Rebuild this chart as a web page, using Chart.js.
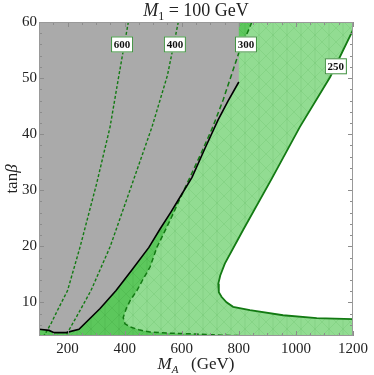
<!DOCTYPE html>
<html>
<head>
<meta charset="utf-8">
<script src="https://cdn.jsdelivr.net/npm/chart.js@4.4.1/dist/chart.umd.min.js"></script>
<style>
  html, body { margin: 0; padding: 0; background: #fff; }
</style>
</head>
<body>
<canvas id="myChart" width="374" height="375"></canvas>
<script>
// axis ranges and tick labels
const xRange = [100, 1200];
const yRange = [4, 60];
const xTicks = [200, 400, 600, 800, 1000, 1200];
const yTicks = [10, 20, 30, 40, 50, 60];

// contour of 250 GeV (solid, edge of the light green band)
const contour250 = [
  {x:1200,y:58.6},{x:1120,y:50.2},{x:1014,y:41.3},{x:916,y:32.1},{x:815,y:22.9},
  {x:751,y:16.9},{x:735,y:14.8},{x:728,y:13.3},{x:730,y:11.8},{x:740,y:10.95},
  {x:757,y:10.0},{x:780,y:9.2},{x:839,y:8.6},{x:955,y:7.7},{x:1073,y:7.2},{x:1200,y:7.0}
];
// contour of 300 GeV (dashed, edge of the dark green band)
const contour300 = [
  {x:846,y:60},{x:800,y:54.5},{x:745,y:46.1},{x:709,y:41.3},{x:668,y:36.6},
  {x:629,y:32.3},{x:593,y:28.4},{x:559,y:24.6},{x:535,y:22.1},{x:513,y:19.8},
  {x:489,y:16.3},{x:462,y:13.9},{x:443,y:12.1},{x:420,y:10.4},{x:405,y:8.8},
  {x:395,y:7.3},{x:401,y:6.2},{x:420,y:5.6},{x:450,y:5.1},{x:489,y:4.7},
  {x:560,y:4.5},{x:650,y:4.35},{x:740,y:4.15},{x:850,y:4.0}
];
const contour400 = [
  {x:588,y:60},{x:550,y:50.5},{x:496,y:41.3},{x:422,y:30.5},{x:349,y:19.9},
  {x:282,y:12.1},{x:242,y:8.4},{x:200,y:4.6},{x:193,y:3.9}
];
const contour600 = [
  {x:413,y:60},{x:380,y:50.5},{x:349,y:41.3},{x:302,y:31.2},{x:244,y:19.9},
  {x:200,y:12.1},{x:165,y:8.6},{x:143,y:6.3},{x:124,y:4.6},{x:116,y:3.9}
];
// black boundary of the excluded (gray) region
const excludedEdge = [
  {x:800,y:49.3},{x:762,y:45.9},{x:727,y:42.5},{x:680,y:37.3},{x:636,y:32.3},
  {x:598,y:29.1},{x:562,y:26.1},{x:523,y:23.0},{x:485,y:19.8},{x:426,y:15.8},
  {x:370,y:12.1},{x:314,y:8.9},{x:240,y:5.2},{x:195,y:4.6},{x:153,y:4.6},
  {x:135,y:5.0},{x:100,y:5.2}
];
// contour labels
const labelText = ['600', '400', '300', '250'];
const labelX = [391, 576, 825, 1140];
const labelY = [56, 56, 56, 52.1];

const serif = '"Liberation Serif", "DejaVu Serif", serif';
const lineGreen = '#137a13';

// faint mesh texture like the original render
function meshPattern(base, line) {
  let c = document.createElement('canvas');
  c.width = 14; c.height = 14;
  let g = c.getContext('2d');
  g.fillStyle = base;
  g.fillRect(0, 0, 14, 14);
  g.strokeStyle = line;
  g.lineWidth = 0.6;
  g.beginPath();
  g.moveTo(0, 0); g.lineTo(14, 14);
  g.moveTo(14, 0); g.lineTo(0, 14);
  g.moveTo(7, 0); g.lineTo(7, 14);
  g.stroke();
  return document.getElementById('myChart').getContext('2d').createPattern(c, 'repeat');
}

// build closed shapes from the curves and the frame corners
const lightShape = [{x:xRange[0],y:yRange[1]}, {x:xRange[1],y:yRange[1]}]
  .concat(contour250, [{x:xRange[1],y:yRange[0]}, {x:xRange[0],y:yRange[0]}]);
const darkShape = contour300.concat([{x:xRange[0],y:yRange[0]}, {x:xRange[0],y:yRange[1]}]);
const grayShape = [{x:xRange[0],y:yRange[1]}, {x:800,y:yRange[1]}].concat(excludedEdge);

function area(data, color, order) {
  return { data: data, showLine: true, fill: 'shape', backgroundColor: color,
           borderWidth: 0, pointRadius: 0, order: order };
}
function curve(data, color, width, dash, order) {
  return { data: data, showLine: true, fill: false, borderColor: color,
           borderWidth: width, borderDash: dash, pointRadius: 0, order: order };
}

// frame, inner tick marks, contour labels, titles
const decorPlugin = {
  id: 'decor',
  afterDatasetsDraw(chart) {
    const ctx = chart.ctx;
    const a = chart.chartArea;
    const xs = chart.scales.x, ys = chart.scales.y;
    ctx.save();
    ctx.strokeStyle = '#8c8c8c';
    ctx.lineWidth = 1;
    ctx.beginPath();
    for (let v = 150; v <= xRange[1]; v += 50) {
      let len = (v % 200 === 0) ? 5 : 3;
      let px = Math.round(xs.getPixelForValue(v)) + 0.5;
      ctx.moveTo(px, a.bottom); ctx.lineTo(px, a.bottom - len);
      ctx.moveTo(px, a.top); ctx.lineTo(px, a.top + len);
    }
    for (let v = 6; v <= yRange[1]; v += 2) {
      let len = (v % 10 === 0) ? 5 : 3;
      let py = Math.round(ys.getPixelForValue(v)) + 0.5;
      ctx.moveTo(a.left, py); ctx.lineTo(a.left + len, py);
      ctx.moveTo(a.right, py); ctx.lineTo(a.right - len, py);
    }
    ctx.stroke();
    ctx.strokeStyle = '#999';
    ctx.strokeRect(a.left + 0.5, a.top + 0.5, a.right - a.left - 1, a.bottom - a.top - 1);

    // contour labels
    ctx.font = 'bold 11px ' + serif;
    ctx.textAlign = 'center';
    ctx.textBaseline = 'middle';
    labelText.forEach(function (t, i) {
      let cx = xs.getPixelForValue(labelX[i]);
      let cy = ys.getPixelForValue(labelY[i]);
      ctx.fillStyle = '#fff';
      ctx.fillRect(cx - 11, cy - 8, 22, 16);
      ctx.strokeStyle = '#3d8f3d';
      ctx.strokeRect(cx - 11 + 0.5, cy - 8 + 0.5, 21, 15);
      ctx.fillStyle = '#111';
      ctx.fillText(t, cx, cy + 0.5);
    });

    // title: M_1 = 100 GeV
    ctx.fillStyle = '#222';
    ctx.textAlign = 'left';
    ctx.textBaseline = 'alphabetic';
    drawRuns(ctx, [
      ['italic 18px ' + serif, 'M', 0],
      ['12px ' + serif, '1', 4],
      ['18px ' + serif, ' = 100 GeV', 0]
    ], (a.left + a.right) / 2, 16);

    // x title: M_A (GeV)
    drawRuns(ctx, [
      ['italic 17px ' + serif, 'M', 0],
      ['italic 11px ' + serif, 'A', 4],
      ['17px ' + serif, '   (GeV)', 0]
    ], (a.left + a.right) / 2, 369);

    // y title: tan beta
    ctx.save();
    ctx.translate(17, (a.top + a.bottom) / 2);
    ctx.rotate(-Math.PI / 2);
    drawRuns(ctx, [
      ['17px ' + serif, 'tan', 0],
      ['italic 17px ' + serif, '\u03b2', 0]
    ], 0, 0);
    ctx.restore();
    ctx.restore();
  }
};

// draws text pieces centred at cx, each with its own font and baseline shift
function drawRuns(ctx, runs, cx, baseY) {
  let total = 0;
  runs.forEach(function (r) { ctx.font = r[0]; total += ctx.measureText(r[1]).width; });
  let x = cx - total / 2;
  runs.forEach(function (r) {
    ctx.font = r[0];
    ctx.fillText(r[1], x, baseY + r[2]);
    x += ctx.measureText(r[1]).width;
  });
}

const lightFill = meshPattern('#92dc92', 'rgba(70,170,70,0.25)');
const darkFill = meshPattern('#5cc75c', 'rgba(40,140,40,0.25)');

new Chart('myChart', {
  type: 'scatter',
  data: {
    datasets: [
      area(lightShape, lightFill, 10),
      area(darkShape, darkFill, 9),
      area(grayShape, '#aaaaaa', 8),
      curve(contour600, lineGreen, 1.4, [3, 2], 3),
      curve(contour400, lineGreen, 1.4, [3, 2], 3),
      curve(contour300, lineGreen, 1.5, [5, 3], 2),
      curve(contour250, lineGreen, 1.8, [], 2),
      curve(excludedEdge, '#000', 1.6, [], 1)
    ]
  },
  options: {
    responsive: false,
    animation: false,
    devicePixelRatio: 1,
    layout: { padding: { top: 22, right: 21, left: 0, bottom: 0 } },
    plugins: { legend: { display: false }, tooltip: { enabled: false }, title: { display: false } },
    scales: {
      x: {
        type: 'linear', min: xRange[0], max: xRange[1],
        grid: { display: false, drawTicks: false }, border: { display: false },
        afterBuildTicks: function (s) { s.ticks = xTicks.map(function (v) { return { value: v }; }); },
        afterFit: function (s) { s.height = 39; },
        ticks: { color: '#222', padding: 4, maxRotation: 0, font: { family: serif, size: 15 },
                 callback: function (v) { return String(v); } }
      },
      y: {
        type: 'linear', min: yRange[0], max: yRange[1],
        grid: { display: false, drawTicks: false }, border: { display: false },
        afterBuildTicks: function (s) { s.ticks = yTicks.map(function (v) { return { value: v }; }); },
        afterFit: function (s) { s.width = 39; },
        ticks: { color: '#222', padding: 2, font: { family: serif, size: 15 },
                 callback: function (v) { return String(v); } }
      }
    }
  },
  plugins: [decorPlugin]
});
</script>
</body>
</html>
